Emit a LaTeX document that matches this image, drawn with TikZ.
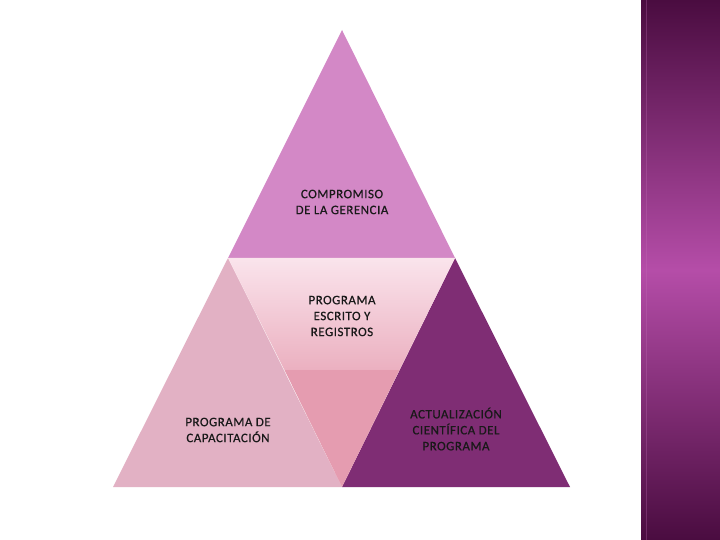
\documentclass[tikz,border=0pt]{standalone}
\usepackage{fontspec}
\setmainfont[LetterSpace=4,FakeBold=0.6]{Carlito}
\definecolor{topc}{HTML}{D388C6}
\definecolor{leftc}{HTML}{E2B1C4}
\definecolor{rightc}{HTML}{7F2D74}
\definecolor{midtop}{HTML}{FAE4EC}
\definecolor{midlow}{HTML}{EBB0C0}
\definecolor{midbot}{HTML}{E59CB0}
\definecolor{banddark}{HTML}{4A0C40}
\definecolor{bandmid}{HTML}{B54DA8}
\tikzset{
  lbl/.style={align=center, font=\fontsize{13}{16}\selectfont, text=black!90, inner sep=0pt},
}
\begin{document}
\begin{tikzpicture}[x=1bp,y=-1bp]
\useasboundingbox (0,0) rectangle (720,540);
\fill[white] (0,0) rectangle (720,540);
% right band
\shade[top color=banddark, bottom color=banddark, middle color=bandmid] (641,0) rectangle (720,540);
\fill[bandmid!80!white, opacity=0.3] (646,0) rectangle (647,540);
% triangles
\fill[topc] (342,30) -- (455,258) -- (228,258) -- cycle;
\fill[leftc] (228,258) -- (342,487) -- (113,487) -- cycle;
\fill[rightc] (455,258) -- (570,487) -- (342,487) -- cycle;
\shade[top color=midtop, bottom color=midlow] (228,258) -- (455,258) -- (399.5,370) -- (284.5,370) -- cycle;
\fill[midbot] (284.5,370) -- (399.5,370) -- (342,487) -- cycle;
% labels
\node[lbl] (top) at (342,202) {COMPROMISO\\DE LA GERENCIA};
\node[lbl] (mid) at (342,316) {PROGRAMA\\ESCRITO Y\\REGISTROS};
\node[lbl] (left) at (228,430) {PROGRAMA DE\\CAPACITACIÓN};
\node[lbl] (right) at (456,429) {ACTUALIZACIÓN\\CIENTÍFICA DEL\\PROGRAMA};
\end{tikzpicture}
\end{document}
